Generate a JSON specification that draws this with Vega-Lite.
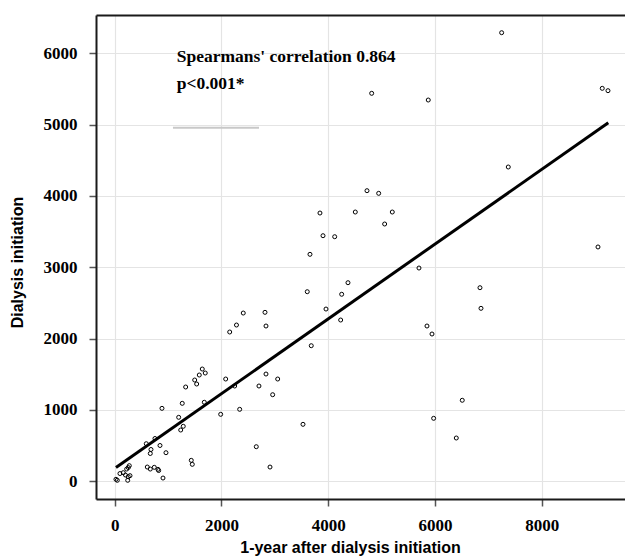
{
  "$schema": "https://vega.github.io/schema/vega-lite/v6.json",
  "autosize": {"type": "none"},
  "padding": {"left": 96, "top": 15, "right": 0, "bottom": 57},
  "width": 529,
  "height": 484,
  "background": "white",
  "config": {
    "view": {"stroke": null},
    "axis": {
      "labelFont": "Times New Roman, Liberation Serif, DejaVu Serif, serif", "labelFontWeight": "bold", "labelFontSize": 17, "labelColor": "black",
      "titleFont": "Liberation Sans", "titleFontWeight": "bold", "titleFontSize": 16, "titleColor": "black",
      "domainColor": "#1a1a1a", "domainWidth": 2, "tickColor": "#555555", "tickWidth": 1.5, "tickSize": 7,
      "gridColor": "#e4e4e4", "gridWidth": 1.2
    }
  },
  "datasets": {
    "points": [
      {"x": 7250, "y": 6289}, {"x": 9135, "y": 5509}, {"x": 9242, "y": 5476}, {"x": 4815, "y": 5439},
      {"x": 5875, "y": 5345}, {"x": 7374, "y": 4406}, {"x": 4727, "y": 4074}, {"x": 4946, "y": 4037},
      {"x": 4508, "y": 3775}, {"x": 5201, "y": 3775}, {"x": 5058, "y": 3607}, {"x": 3846, "y": 3761},
      {"x": 3903, "y": 3443}, {"x": 4122, "y": 3429}, {"x": 3659, "y": 3182}, {"x": 5701, "y": 2990},
      {"x": 4371, "y": 2784}, {"x": 4253, "y": 2622}, {"x": 3608, "y": 2658}, {"x": 6844, "y": 2714},
      {"x": 6863, "y": 2425}, {"x": 3959, "y": 2415}, {"x": 4234, "y": 2261}, {"x": 5851, "y": 2177},
      {"x": 5945, "y": 2065}, {"x": 3683, "y": 1901}, {"x": 6512, "y": 1136}, {"x": 5976, "y": 883},
      {"x": 6400, "y": 607}, {"x": 3528, "y": 799}, {"x": 9055, "y": 3285},
      {"x": 2409, "y": 2359}, {"x": 2816, "y": 2369}, {"x": 2282, "y": 2191}, {"x": 2155, "y": 2093},
      {"x": 2835, "y": 2177}, {"x": 1641, "y": 1574}, {"x": 1585, "y": 1490}, {"x": 1697, "y": 1518},
      {"x": 1499, "y": 1420}, {"x": 1536, "y": 1364}, {"x": 1330, "y": 1322}, {"x": 2080, "y": 1434},
      {"x": 2248, "y": 1336}, {"x": 2835, "y": 1504}, {"x": 2703, "y": 1336}, {"x": 3054, "y": 1434},
      {"x": 2960, "y": 1214}, {"x": 1266, "y": 1093}, {"x": 1679, "y": 1108}, {"x": 886, "y": 1023},
      {"x": 1986, "y": 939}, {"x": 2342, "y": 1009}, {"x": 1199, "y": 897}, {"x": 1285, "y": 771},
      {"x": 1237, "y": 719}, {"x": 755, "y": 600}, {"x": 592, "y": 527}, {"x": 849, "y": 502},
      {"x": 680, "y": 446}, {"x": 667, "y": 390}, {"x": 961, "y": 401}, {"x": 2653, "y": 485},
      {"x": 1435, "y": 294}, {"x": 1454, "y": 238}, {"x": 2910, "y": 200}, {"x": 611, "y": 200},
      {"x": 667, "y": 172}, {"x": 742, "y": 196}, {"x": 811, "y": 168}, {"x": 824, "y": 151},
      {"x": 905, "y": 46},
      {"x": 24, "y": 28}, {"x": 49, "y": 14}, {"x": 99, "y": 109}, {"x": 161, "y": 121},
      {"x": 202, "y": 88}, {"x": 225, "y": 172}, {"x": 255, "y": 193}, {"x": 274, "y": 219},
      {"x": 255, "y": 64}, {"x": 244, "y": 14}, {"x": 287, "y": 79}
    ],
    "fit": [{"x": 24, "y": 193}, {"x": 9248, "y": 5027}],
    "seg": [{"x1": 1092, "x2": 2704, "y": 4957}],
    "notes": [
      {"x": 1162, "y": 5882, "label": "Spearmans' correlation 0.864"},
      {"x": 1162, "y": 5495, "label": "p<0.001*"}
    ]
  },
  "layer": [
    {
      "data": {"name": "points"},
      "mark": {"type": "point", "shape": "circle", "filled": false, "color": "black", "size": 16, "strokeWidth": 1, "opacity": 1},
      "encoding": {
        "x": {"field": "x", "type": "quantitative",
          "scale": {"domain": [-350, 9561], "nice": false, "zero": false},
          "axis": {"orient": "bottom", "values": [0, 2000, 4000, 6000, 8000], "format": "d", "labelPadding": 11,
            "title": "1-year after dialysis  initiation", "titleX": 254, "titleY": 53, "titleBaseline": "alphabetic", "titleAlign": "center"}},
        "y": {"field": "y", "type": "quantitative",
          "scale": {"domain": [-248, 6537], "nice": false, "zero": false},
          "axis": {"values": [0, 1000, 2000, 3000, 4000, 5000, 6000], "format": "d", "labelPadding": 12,
            "title": "Dialysis  initiation", "titleX": -79, "titleY": 247, "titleBaseline": "middle", "titleAlign": "center", "titleAngle": 270}}
      }
    },
    {
      "data": {"name": "fit"},
      "mark": {"type": "line", "color": "black", "strokeWidth": 3},
      "encoding": {
        "x": {"field": "x", "type": "quantitative",
          "axis": {"orient": "top", "labels": false, "ticks": false, "grid": false, "domain": true, "title": null}},
        "y": {"field": "y", "type": "quantitative"}
      }
    },
    {
      "data": {"name": "seg"},
      "mark": {"type": "rule", "color": "#c8c8c8", "strokeWidth": 2},
      "encoding": {
        "x": {"field": "x1", "type": "quantitative", "axis": null},
        "x2": {"field": "x2"},
        "y": {"field": "y", "type": "quantitative"}
      }
    },
    {
      "data": {"name": "notes"},
      "mark": {"type": "text", "font": "Times New Roman, Liberation Serif, DejaVu Serif, serif", "fontWeight": "bold", "fontSize": 17.5, "align": "left", "baseline": "alphabetic", "color": "black"},
      "encoding": {
        "x": {"field": "x", "type": "quantitative", "axis": null},
        "y": {"field": "y", "type": "quantitative"},
        "text": {"field": "label"}
      }
    }
  ],
  "resolve": {"axis": {"x": "independent"}}
}
